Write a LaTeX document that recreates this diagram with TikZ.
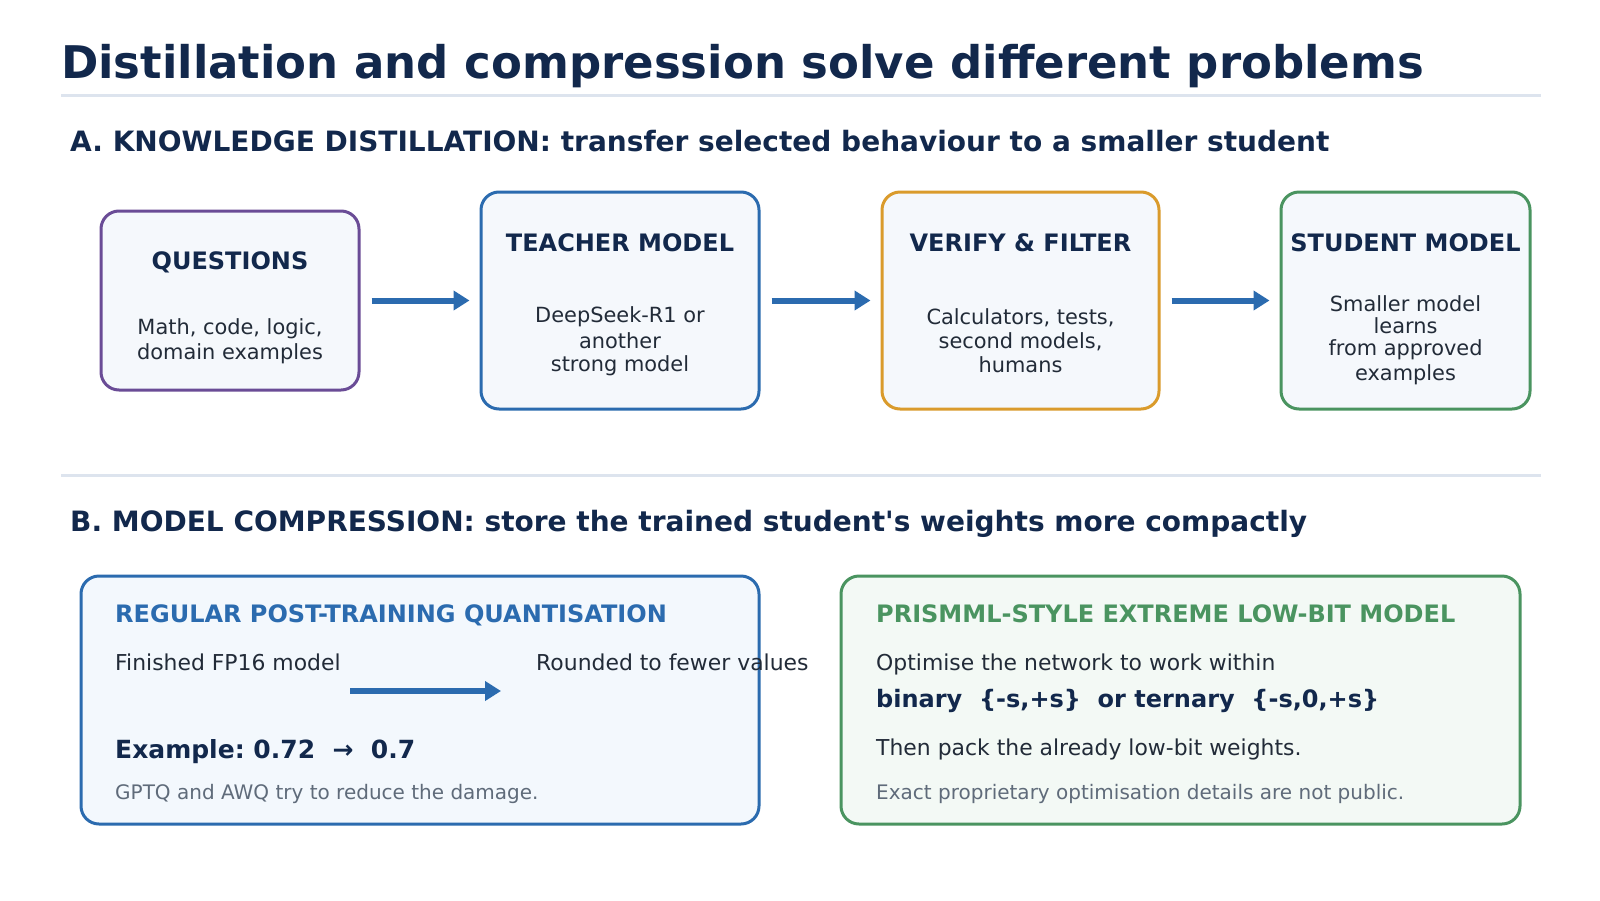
\documentclass[tikz,border=0pt]{standalone}
\usepackage{fontspec}
\setmainfont{DejaVu Sans}
\usetikzlibrary{arrows.meta}
\definecolor{navy}{HTML}{12284C}
\definecolor{bodytxt}{HTML}{222B38}
\definecolor{graytxt}{HTML}{5F6B7A}
\definecolor{sepline}{HTML}{DDE4EE}
\definecolor{cpurple}{HTML}{6A4C96}
\definecolor{cblue}{HTML}{2B6BAF}
\definecolor{corange}{HTML}{DA9B2C}
\definecolor{cgreen}{HTML}{4A9460}
\definecolor{boxfill}{HTML}{F5F8FC}
\definecolor{bluefill}{HTML}{F3F8FD}
\definecolor{greenfill}{HTML}{F3F9F5}
\frenchspacing
\newcommand{\fsz}[1]{\fontsize{#1pt}{#1pt}\selectfont}
\newcommand{\clines}[2]{\vtop{\baselineskip=#1pt\lineskiplimit=-100pt\lineskip=0pt\halign{\hfil##\hfil\cr#2\crcr}}}
\tikzset{
  lbl/.style={inner sep=0pt, anchor=base west},
  ctr/.style={inner sep=0pt, anchor=base},
  card/.style={line width=3pt, rounded corners=18pt, fill=boxfill, inner sep=0pt},
  flow/.style={draw=cblue, line width=6pt, -{Triangle[length=16pt,width=19pt]}, shorten <=11pt, shorten >=10pt},
  sepl/.style={draw=sepline, line width=3pt},
  boxtitle/.style={ctr, font=\fsz{24}\bfseries, text=navy},
  boxbody/.style={ctr, font=\fsz{20.9}, text=bodytxt},
  head/.style={lbl, font=\fsz{28}\bfseries, text=navy},
  cardtitle/.style={lbl, font=\fsz{24}\bfseries},
  cardbody/.style={lbl, font=\fsz{21.9}, text=bodytxt},
  cardnote/.style={lbl, font=\fsz{20}, text=graytxt},
}
\begin{document}
\begin{tikzpicture}[x=1pt, y=-1pt]
\useasboundingbox[fill=white] (0,0) rectangle (1600,900);

% title
\node[lbl, font=\fsz{45}\bfseries, text=navy] (title) at (61,78) {Distillation and compression solve different problems};
\coordinate (s1a) at (61,95);
\coordinate (s1b) at (1541,95);
\draw[sepl] (s1a) -- (s1b);

% section A
\node[head] (secA) at (70,151) {A. KNOWLEDGE DISTILLATION: transfer selected behaviour to a smaller student};

\node[card, draw=cpurple, minimum width=258pt, minimum height=179pt] (q) at (230,300.5) {};
\node[card, draw=cblue, minimum width=278pt, minimum height=217pt] (t) at (620,300.5) {};
\node[card, draw=corange, minimum width=277pt, minimum height=217pt] (v) at (1020.5,300.5) {};
\node[card, draw=cgreen, minimum width=249pt, minimum height=217pt] (s) at (1405.5,300.5) {};

\node[boxtitle] (qt) at (230,269) {QUESTIONS};
\node[boxbody] (qb) at (230,334) {\clines{25}{Math, code, logic,\cr domain examples}};

\node[boxtitle] (tt) at (620,251) {TEACHER MODEL};
\node[boxbody] (tb) at (620,322.5) {\clines{23}{DeepSeek-R1 or\cr\noalign{\vskip2.5pt} another\cr strong model}};

\node[boxtitle] (vt) at (1020.5,251) {VERIFY \& FILTER};
\node[boxbody] (vb) at (1020.5,324) {\clines{24}{Calculators, tests,\cr second models,\cr humans}};

\node[boxtitle] (st) at (1405.5,251) {STUDENT MODEL};
\node[boxbody] (sb) at (1405.5,311) {\clines{22}{Smaller model\cr learns\cr from approved\cr\noalign{\vskip3pt} examples}};

\draw[flow] (q.east) -- (t.west);
\draw[flow] (t.east) -- (v.west);
\draw[flow] (v.east) -- (s.west);

\coordinate (s2a) at (61,475);
\coordinate (s2b) at (1541,475);
\draw[sepl] (s2a) -- (s2b);

% section B
\node[head] (secB) at (70,531) {B. MODEL COMPRESSION: store the trained student\textquotesingle s weights more compactly};

\node[card, draw=cblue, fill=bluefill, minimum width=678pt, minimum height=248pt] (ql) at (420,700) {};
\node[card, draw=cgreen, fill=greenfill, minimum width=679pt, minimum height=248pt] (pr) at (1180.5,700) {};

\node[cardtitle, text=cblue] (qlt) at (115,622) {REGULAR POST-TRAINING QUANTISATION};
\node[cardbody] (fin) at (115,670) {Finished FP16 model};
\node[cardbody] (rnd) at (536,670) {Rounded to fewer values};
\coordinate (ba1) at (350,691);
\coordinate (ba2) at (501,691);
\draw[flow, shorten <=0pt, shorten >=0pt] (ba1) -- (ba2);
\node[lbl, font=\fsz{25}\bfseries, text=navy] (ex) at (115,758) {Example: 0.72~~→~~0.7};
\node[cardnote] (gptq) at (115,799) {GPTQ and AWQ try to reduce the damage.};

\node[cardtitle, text=cgreen] (prt) at (876,622) {PRISMML-STYLE EXTREME LOW-BIT MODEL};
\node[cardbody] (opt) at (876,670) {Optimise the network to work within};
\node[cardtitle, text=navy] (bin) at (876,707) {binary~~\{-s,+s\}~~or ternary~~\{-s,0,+s\}};
\node[cardbody] (pack) at (876,755) {Then pack the already low-bit weights.};
\node[cardnote] (exact) at (876,799) {Exact proprietary optimisation details are not public.};
\end{tikzpicture}
\end{document}
